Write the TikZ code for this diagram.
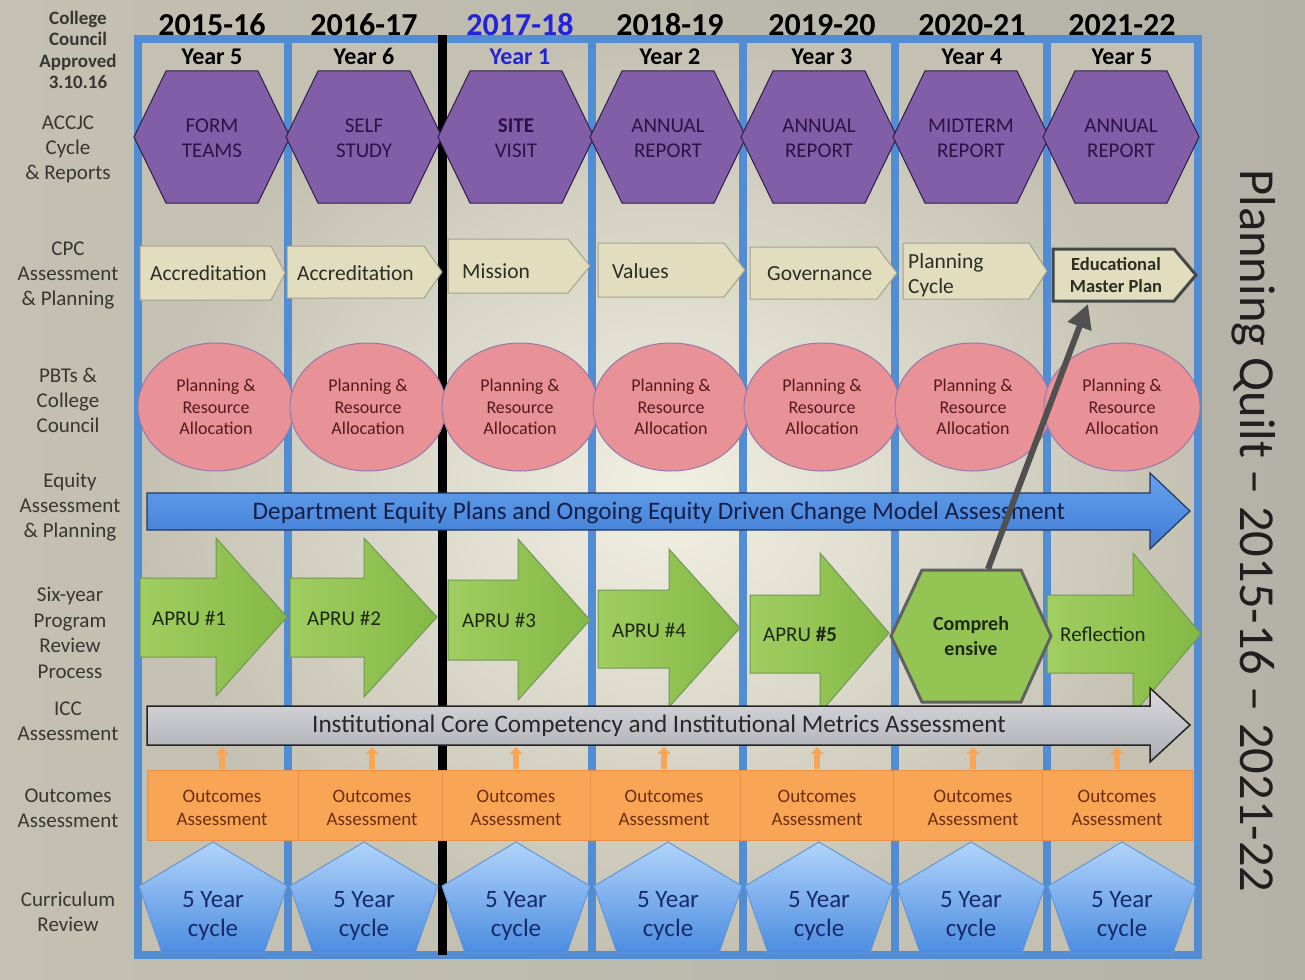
\documentclass[tikz,border=0pt]{standalone}
\usepackage{fontspec}
\setmainfont{Carlito}
\usetikzlibrary{shapes.geometric,arrows.meta,calc}
\definecolor{bgout}{RGB}{196,193,179}
\definecolor{bgoutR}{RGB}{180,178,168}
\definecolor{bgin}{RGB}{242,240,226}
\definecolor{frameblue}{RGB}{82,140,210}
\definecolor{hexfill}{RGB}{130,94,168}
\definecolor{hexline}{RGB}{45,30,70}
\definecolor{hextxt}{RGB}{45,18,72}
\definecolor{tagfill}{RGB}{226,221,190}
\definecolor{tagline}{RGB}{165,162,140}
\definecolor{tagtxt}{RGB}{45,45,35}
\definecolor{pinkfill}{RGB}{232,146,152}
\definecolor{pinkline}{RGB}{150,120,170}
\definecolor{pinktxt}{RGB}{85,25,30}
\definecolor{eqtop}{RGB}{100,162,236}
\definecolor{eqbot}{RGB}{62,124,212}
\definecolor{eqline}{RGB}{35,55,95}
\definecolor{eqtxt}{RGB}{20,30,70}
\definecolor{grA}{RGB}{160,206,96}
\definecolor{grB}{RGB}{132,184,70}
\definecolor{grline}{RGB}{115,150,85}
\definecolor{grtxt}{RGB}{30,40,20}
\definecolor{icctop}{RGB}{218,218,223}
\definecolor{iccbot}{RGB}{172,172,180}
\definecolor{iccline}{RGB}{35,35,35}
\definecolor{icctxt}{RGB}{40,40,40}
\definecolor{orfill}{RGB}{248,165,85}
\definecolor{orline}{RGB}{232,145,70}
\definecolor{ortxt}{RGB}{110,45,12}
\definecolor{pttop}{RGB}{178,212,250}
\definecolor{ptbot}{RGB}{75,140,225}
\definecolor{ptline}{RGB}{100,150,215}
\definecolor{pttxt}{RGB}{22,42,105}
\definecolor{lbltxt}{RGB}{55,55,50}
\definecolor{connc}{RGB}{80,80,80}
\definecolor{yrblue}{RGB}{35,35,215}
\begin{document}
\begin{tikzpicture}[x=1pt,y=-1pt,
  frameline/.style={draw=frameblue, line width=8pt},
  yearhd/.style={font=\fontsize{32}{36}\selectfont\bfseries, inner sep=0pt},
  yearsub/.style={font=\fontsize{24}{28}\selectfont\bfseries, inner sep=0pt, anchor=base},
  hexshape/.style={fill=hexfill, draw=hexline, line width=1pt},
  hextext/.style={align=center, text=hextxt, font=\fontsize{21}{25}\selectfont, inner sep=0pt},
  tagshape/.style={fill=tagfill, draw=tagline, line width=1pt},
  tagtext/.style={anchor=west, text=tagtxt, font=\fontsize{21.5}{25}\selectfont, inner sep=0pt, align=left},
  pbt/.style={ellipse, fill=pinkfill, draw=pinkline, line width=1pt, minimum width=156pt, minimum height=128pt, align=center, text=pinktxt, font=\fontsize{18}{21.7}\selectfont, inner sep=0pt},
  greenshape/.style={left color=grA, right color=grB, draw=grline, line width=1pt},
  greentext/.style={anchor=west, text=grtxt, font=\fontsize{21}{25}\selectfont, inner sep=0pt},
  longtext/.style={font=\fontsize{25.2}{29}\selectfont, inner sep=0pt},
  outcell/.style={fill=orfill, draw=orline, line width=0.6pt},
  outtext/.style={align=center, text=ortxt, font=\fontsize{19}{23}\selectfont, inner sep=0pt},
  pentshape/.style={top color=pttop, bottom color=ptbot, draw=ptline, line width=1pt},
  penttext/.style={align=center, text=pttxt, font=\fontsize{25}{29}\selectfont, inner sep=0pt},
  rowlabel/.style={align=center, text=lbltxt, font=\fontsize{21}{25}\selectfont, inner sep=0pt},
  uparrow/.style={draw=orfill, line width=6pt, -{Triangle[length=7pt,width=13pt]}},
  connector/.style={draw=connc, line width=6pt, -{Triangle[length=24pt,width=24pt]}}
]
\path[use as bounding box] (0,0) rectangle (1305,979);
% background
\shade[left color=bgout, right color=bgoutR] (0,0) rectangle (1305,979);
\shade[inner color=bgin, outer color=bgout] (138,39) rectangle (1198,955);

% frame and column dividers
\draw[frameline] (138,39) rectangle (1198,955);
\foreach \x in {288,592,743,895,1047} \draw[frameline] (\x,39) -- (\x,955);
\draw[line width=9pt, black] (442,35) -- (442,955);

% headers
\foreach \x/\yr/\yy/\col [count=\i] in {212/2015-16/Year 5/black, 364/2016-17/Year 6/black, 520/2017-18/Year 1/yrblue, 670/2018-19/Year 2/black, 822/2019-20/Year 3/black, 972/2020-21/Year 4/black, 1122/2021-22/Year 5/black} {
  \node[yearhd, text=\col] (yr\i) at (\x,25) {\yr};
  \node[yearsub, text=\col] (ys\i) at (\x,65) {\yy};
}

% row labels
\node[rowlabel, font=\fontsize{19}{21.5}\selectfont\bfseries] (lcc) at (78,50) {College\\Council\\Approved\\3.10.16};
\node[rowlabel] (lacc) at (68,149) {ACCJC\\Cycle\\\& Reports};
\node[rowlabel] (lcpc) at (68,275) {CPC\\Assessment\\\& Planning};
\node[rowlabel] (lpbt) at (68,400) {PBTs \&\\College\\Council};
\node[rowlabel] (lequ) at (70,507) {Equity\\Assessment\\\& Planning};
\node[rowlabel, font=\fontsize{21}{25.5}\selectfont] (lsix) at (70,633) {Six-year\\Program\\Review\\Process};
\node[rowlabel] (licc) at (68,721) {ICC\\Assessment};
\node[rowlabel] (lout) at (68,808) {Outcomes\\Assessment};
\node[rowlabel] (lcur) at (68,912) {Curriculum\\Review};

% ACCJC hexagons
\foreach \x/\t [count=\i] in {212/{FORM\\TEAMS}, 364/{SELF\\STUDY}, 516/{\bfseries SITE\\VISIT}, 668/{ANNUAL\\REPORT}, 819/{ANNUAL\\REPORT}, 971/{MIDTERM\\REPORT}, 1121/{ANNUAL\\REPORT}} {
  \draw[hexshape] (\x-78,137) -- (\x-46,71) -- (\x+46,71) -- (\x+78,137) -- (\x+46,203) -- (\x-46,203) -- cycle;
  \node[hextext] (hx\i) at (\x,138) {\t};
}

% CPC tags
\draw[tagshape] (140,246) -- (271,246) -- (285,273) -- (271,300) -- (140,300) -- cycle;
\node[tagtext] (cpc1) at (150,273) {Accreditation};
\draw[tagshape] (287,246) -- (424,246) -- (442,272) -- (424,298) -- (287,298) -- cycle;
\node[tagtext] (cpc2) at (297,273) {Accreditation};
\draw[tagshape] (448,239) -- (568,239) -- (590,266) -- (568,293) -- (448,293) -- cycle;
\node[tagtext] (cpc3) at (462,271) {Mission};
\draw[tagshape] (598,243) -- (724,243) -- (745,270) -- (724,297) -- (598,297) -- cycle;
\node[tagtext] (cpc4) at (612,271) {Values};
\draw[tagshape] (750,247) -- (877,247) -- (897,273) -- (877,299) -- (750,299) -- cycle;
\node[tagtext] (cpc5) at (767,274) {Governance};
\draw[tagshape] (903,243) -- (1029,243) -- (1047,271) -- (1029,299) -- (903,299) -- cycle;
\node[tagtext] (cpc6) at (908,275) {Planning\\Cycle};
\draw[fill=tagfill, draw=black!72, line width=3pt] (1053,249) -- (1174,249) -- (1196,275) -- (1174,301) -- (1053,301) -- cycle;
\node[tagtext, anchor=center, align=center, font=\fontsize{18.5}{22}\selectfont\bfseries] (emp) at (1116,275) {Educational\\Master Plan};

% PBT ellipses
\foreach \x [count=\i] in {216,368,520,671,822,973,1122} {
  \node[pbt] (pbt\i) at (\x,407) {Planning \&\\Resource\\Allocation};
}

% Equity arrow
\shadedraw[top color=eqtop, bottom color=eqbot, draw=eqline, line width=1.2pt] (147,493) -- (1150,493) -- (1150,473) -- (1190,511) -- (1150,549) -- (1150,530) -- (147,530) -- cycle;
\node[longtext, text=eqtxt] (equity) at (659,513) {Department Equity Plans and Ongoing Equity Driven Change Model Assessment};

% APRU arrows
\shadedraw[greenshape] (140,578) -- (216,578) -- (216,538) -- (287,617) -- (216,696) -- (216,657) -- (140,657) -- cycle;
\node[greentext] (ap1) at (152,618) {APRU \#1};
\shadedraw[greenshape] (290,578) -- (364,578) -- (364,538) -- (437,617) -- (364,697) -- (364,657) -- (290,657) -- cycle;
\node[greentext] (ap2) at (307,618) {APRU \#2};
\shadedraw[greenshape] (448,580) -- (518,580) -- (518,539) -- (590,620) -- (518,700) -- (518,660) -- (448,660) -- cycle;
\node[greentext] (ap3) at (462,620) {APRU \#3};
\shadedraw[greenshape] (598,590) -- (669,590) -- (669,549) -- (740,628) -- (669,707) -- (669,668) -- (598,668) -- cycle;
\node[greentext] (ap4) at (612,630) {APRU \#4};
\shadedraw[greenshape] (750,595) -- (820,595) -- (820,553) -- (889,633) -- (820,713) -- (820,673) -- (750,673) -- cycle;
\node[greentext] (ap5) at (763,634) {APRU \textbf{\#5}};
\shadedraw[greenshape] (1047,595) -- (1133,595) -- (1133,553) -- (1201,634) -- (1133,714) -- (1133,673) -- (1047,673) -- cycle;
\node[greentext] (refl) at (1060,634) {Reflection};
\draw[fill=grA!55!grB, draw=black!62, line width=3pt] (891,636) -- (922,570) -- (1021,570) -- (1051,636) -- (1021,702) -- (922,702) -- cycle;
\node[hextext, text=grtxt, font=\fontsize{20}{25}\selectfont\bfseries] (comp) at (971,636) {Compreh\\ensive};

% connector to Educational Master Plan
\coordinate (compTop) at (988,569);
\coordinate (empBottom) at (1088,304);
\draw[connector] (compTop) -- (empBottom);

% ICC arrow
\shadedraw[top color=icctop, bottom color=iccbot, draw=iccline, line width=1.5pt] (147,706) -- (1150,706) -- (1150,688) -- (1190,725) -- (1150,762) -- (1150,745) -- (147,745) -- cycle;
\node[longtext, text=icctxt] (icc) at (659,726) {Institutional Core Competency and Institutional Metrics Assessment};

% outcomes
\foreach \a/\b/\x [count=\i] in {147/298/222, 298/442/372, 442/590/516, 590/740/664, 740/893/817, 893/1042/973, 1042/1192/1117} {
  \draw[outcell] (\a,770) rectangle (\b,840);
  \node[outtext] (oa\i) at (\x,808) {Outcomes\\Assessment};
  \coordinate (up\i) at (\x,747);
  \draw[uparrow] (oa\i.north |- 0,769) -- (up\i);
}

% curriculum pentagons
\foreach \x [count=\i] in {213,364,516,668,819,971,1122} {
  \shadedraw[pentshape] (\x,842) -- (\x+74,886) -- (\x+51,953) -- (\x-51,953) -- (\x-74,886) -- cycle;
  \node[penttext] (cy\i) at (\x,916) {5 Year\\cycle};
}

% title
\node[rotate=-90, font=\fontsize{50.5}{56}\selectfont, inner sep=0pt, text=black!88] (title) at (1254,531) {Planning Quilt – 2015-16 – 2021-22};
\end{tikzpicture}
\end{document}
